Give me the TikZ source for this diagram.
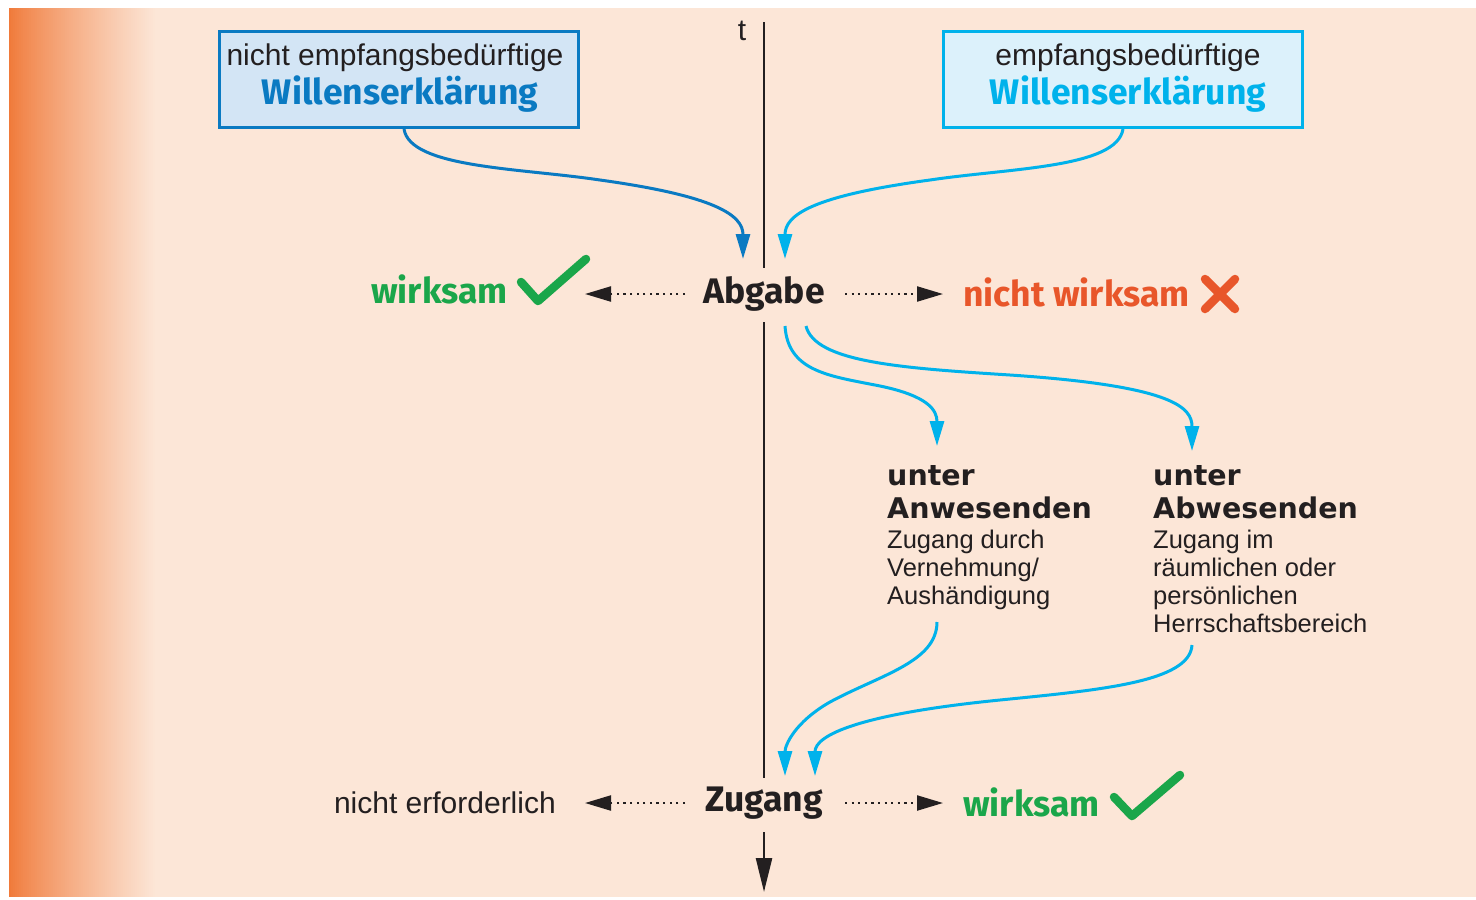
\documentclass[tikz,border=0pt]{standalone}
\usepackage{fontspec}
\setmainfont{Liberation Sans}
\newfontfamily\myr{Fira Sans}
\newfontfamily\wide{DejaVu Sans}
\usetikzlibrary{arrows.meta}
\definecolor{peach}{HTML}{FCE6D7}
\definecolor{orangeedge}{HTML}{F07A3A}
\definecolor{dblue}{HTML}{0A7AC2}
\definecolor{cblue}{HTML}{00B2EB}
\definecolor{dfill}{HTML}{D3E5F5}
\definecolor{cfill}{HTML}{DCF1FB}
\definecolor{okgreen}{HTML}{1AA64A}
\definecolor{badred}{HTML}{E8562A}
\definecolor{ink}{HTML}{231F20}
\tikzset{
  px/.style={x=1pt,y=-1pt},
  wbox/.style={draw, line width=3pt, minimum width=359pt, minimum height=96pt, inner sep=0pt},
  reg/.style={font=\fontsize{30}{36}\selectfont, text=ink, inner sep=0pt},
  key/.style={font=\myr\bfseries\fontsize{35.5}{40}\selectfont, text=ink, inner sep=0pt},
  wlabel/.style={font=\myr\bfseries\fontsize{35.5}{40}\selectfont, inner sep=0pt},
  headl/.style={font=\wide\bfseries\fontsize{28.5}{32}\selectfont, text=ink, inner sep=0pt, align=left},
  bodyl/.style={font=\fontsize{25.5}{28}\selectfont, text=ink, inner sep=0pt, align=left},
  flow/.style={line width=3pt, -{Triangle[length=25pt,width=14pt]}},
  dotarrow/.style={line width=2.2pt, dash pattern=on 2.2pt off 4.4pt, ink, -{Triangle[length=26pt,width=15pt]}},
  tline/.style={line width=2.5pt, ink},
  check/.style={okgreen, line width=8.5pt, line cap=round, line join=round},
  cross/.style={badred, line width=8.5pt, line cap=round},
}
\begin{document}
\begin{tikzpicture}[px]
\useasboundingbox (0,0) rectangle (1476,900);
\fill[white] (0,0) rectangle (1476,900);
\fill[peach] (9,8) rectangle (1476,897);
\foreach \i in {0,...,73} {
  \pgfmathsetmacro{\p}{100*(\i/73)^0.85}
  \fill[peach!\p!orangeedge] ({9+2*\i},8) rectangle ({11.6+2*\i},897);
}

% time line
\node[font=\fontsize{30}{34}\selectfont, text=ink, inner sep=0pt] (t) at (742,31) {t};
\coordinate (ttop) at (764,22);
\node[key] (abg) at (764,294) {Abgabe};
\node[key] (zug) at (764,803) {Zugang};
\coordinate (abgtop) at (764,268);
\coordinate (abgbot) at (764,322);
\coordinate (zugtop) at (764,778);
\coordinate (zugbot) at (764,832);
\coordinate (tend) at (764,892);
\draw[tline] (ttop) -- (abgtop);
\draw[tline] (abgbot) -- (zugtop);
\draw[tline, -{Triangle[length=34pt,width=16pt]}] (zugbot) -- (tend);

% boxes
\node[wbox, draw=dblue, fill=dfill, anchor=north west] (lbox) at (218,30) {};
\node[wbox, draw=cblue, fill=cfill, anchor=north west] (rbox) at (942,30) {};
\node[reg, anchor=base] (l1) at (395,65) {nicht empfangsbedürftige};
\node[wlabel, text=dblue, anchor=base] (l2) at (400,104) {Willenserklärung};
\node[reg, anchor=base] (r1) at (1128,65) {empfangsbedürftige};
\node[wlabel, text=cblue, anchor=base] (r2) at (1128,104) {Willenserklärung};

% arrows from boxes to Abgabe
\coordinate (la) at (743,259);
\coordinate (ra) at (785,259);
\draw[flow, dblue] (lbox.south -| 404,0) .. controls (410,168) and (520,168) .. (600,180) .. controls (715,196) and (743,215) .. (la);
\draw[flow, cblue] (rbox.south -| 1123,0) .. controls (1117,168) and (1010,168) .. (930,180) .. controls (812,196) and (785,215) .. (ra);

% Abgabe row
\coordinate (abgL) at (685,294);
\coordinate (abgR) at (845,294);
\coordinate (abgLe) at (585,294);
\coordinate (abgRe) at (943,294);
\draw[dotarrow] (abgL) -- (abgLe);
\draw[dotarrow] (abgR) -- (abgRe);
\node[wlabel, text=okgreen, anchor=base east] (w1) at (508,303) {wirksam};
\draw[check] (521,282) -- (538,301) -- (586,259);
\node[wlabel, text=badred, anchor=base west] (nw) at (963,306) {nicht wirksam};
\draw[cross] (1205,279) -- (1235,309);
\draw[cross] (1235,279) -- (1205,309);

% branches
\coordinate (b1s) at (785,326);
\coordinate (b2s) at (806,326);
\coordinate (b1e) at (937,446);
\coordinate (b2e) at (1192,451);
\draw[flow, cblue] (b1s) .. controls (788,372) and (830,376) .. (880,386) .. controls (928,396) and (937,410) .. (b1e);
\draw[flow, cblue] (b2s) .. controls (815,362) and (900,368) .. (1010,375) .. controls (1175,386) and (1192,408) .. (b2e);

\node[headl, anchor=north west] (anw) at (887,465) {unter\\[1pt]Anwesenden};
\node[bodyl, anchor=north west] (anwb) at (887,530) {Zugang durch\\Vernehmung/\\Aushändigung};
\node[headl, anchor=north west] (abw) at (1153,465) {unter\\[1pt]Abwesenden};
\node[bodyl, anchor=north west] (abwb) at (1153,530) {Zugang im\\räumlichen oder\\persönlichen\\Herrschaftsbereich};

\coordinate (c1s) at (937,622);
\coordinate (c2s) at (1192,645);
\coordinate (c1e) at (785,776);
\coordinate (c2e) at (815,776);
\draw[flow, cblue] (c1s) .. controls (937,662) and (880,675) .. (830,702) .. controls (795,722) and (785,745) .. (c1e);
\draw[flow, cblue] (c2s) .. controls (1190,682) and (1100,690) .. (1000,700) .. controls (860,714) and (815,735) .. (c2e);

% Zugang row
\coordinate (zugL) at (685,803);
\coordinate (zugR) at (845,803);
\coordinate (zugLe) at (585,803);
\coordinate (zugRe) at (943,803);
\draw[dotarrow] (zugL) -- (zugLe);
\draw[dotarrow] (zugR) -- (zugRe);
\node[reg, anchor=base east] (ne) at (556,813) {nicht erforderlich};
\node[wlabel, text=okgreen, anchor=base west] (w2) at (963,816) {wirksam};
\draw[check] (1114,797) -- (1132,816) -- (1180,775);
\end{tikzpicture}
\end{document}
